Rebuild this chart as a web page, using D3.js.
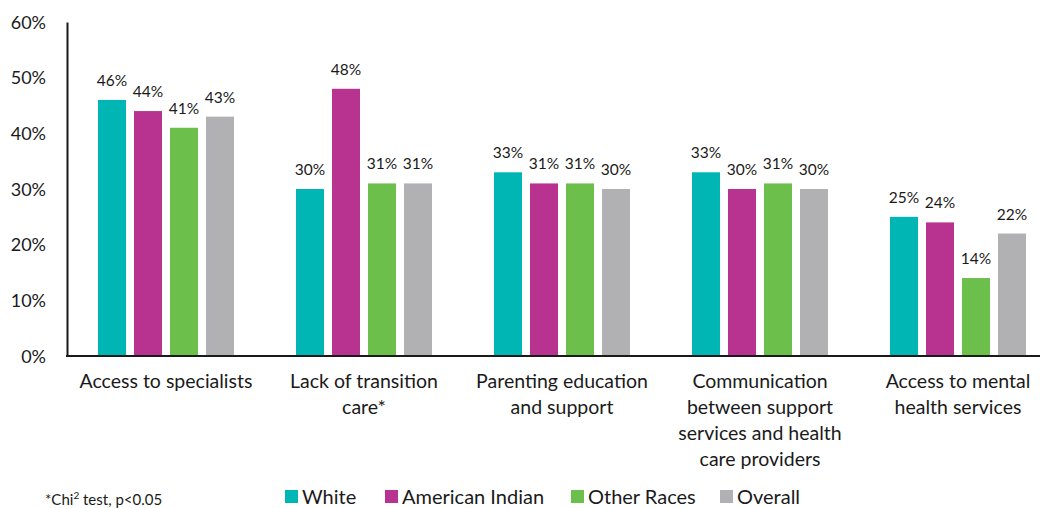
<!DOCTYPE html>
<html lang="en">
<head>
<meta charset="UTF-8">
<title>Barriers to care by race</title>
<script src="https://cdnjs.cloudflare.com/ajax/libs/d3/7.8.5/d3.min.js"></script>
<style>
    body { margin: 0; background: #fff; }
    text { font-family: Lato, 'Noto Sans', sans-serif; fill: #1a1a1a; }
</style>
</head>
<body>
<div id="chart"></div>
<script>
    // categories (each label split into its lines)
    const categories = [
        ['Access to specialists'],
        ['Lack of transition', 'care*'],
        ['Parenting education', 'and support'],
        ['Communication', 'between support', 'services and health', 'care providers'],
        ['Access to mental', 'health services']
    ];
    const seriesNames = ['White', 'American Indian', 'Other Races', 'Overall'];
    const white          = [46, 30, 33, 33, 25];
    const americanIndian = [44, 48, 31, 30, 24];
    const otherRaces     = [41, 31, 31, 31, 14];
    const overall        = [43, 31, 30, 30, 22];
    const yTicks = [0, 10, 20, 30, 40, 50, 60];

    const colours = ['#00b6b4', '#b8338f', '#6cbf4a', '#b1b1b3'];
    const seriesValues = [white, americanIndian, otherRaces, overall];

    const width = 1040, height = 508;
    const svg = d3.select('#chart').append('svg')
        .attr('width', width).attr('height', height);

    const x0 = d3.scaleBand()
        .domain(d3.range(categories.length))
        .range([67, 1057])
        .paddingInner(0).paddingOuter(0);

    // inner band: 4 bars, step 36, width 28, centred in the group
    const x1 = d3.scaleBand()
        .domain(d3.range(seriesNames.length))
        .range([31, 167])
        .paddingInner(8 / 36).paddingOuter(0);

    const y = d3.scaleLinear().domain([0, 60]).range([356, 22]);

    // y axis
    const yAxis = svg.append('g')
        .attr('transform', 'translate(67,0)')
        .call(d3.axisLeft(y).tickValues(yTicks).tickSize(0).tickPadding(20)
            .tickFormat(d => d + '%'));
    yAxis.select('.domain').attr('stroke', '#1a1a1a').attr('stroke-width', 2);
    yAxis.selectAll('text')
        .style('font-size', '18px')
        .attr('text-anchor', 'end')
        .attr('x', -21).attr('dy', '0.34em');

    // bars
    const groups = svg.append('g').selectAll('g')
        .data(categories)
        .join('g')
        .attr('transform', (d, i) => `translate(${x0(i)},0)`);

    groups.each(function(d, ci) {
        const g = d3.select(this);
        const vals = seriesValues.map((s, si) => ({ si: si, v: s[ci] }));
        g.selectAll('rect')
            .data(vals)
            .join('rect')
            .attr('x', e => x1(e.si))
            .attr('width', x1.bandwidth())
            .attr('y', e => y(e.v))
            .attr('height', e => y(0) - y(e.v))
            .attr('fill', e => colours[e.si]);
        g.selectAll('text.val')
            .data(vals)
            .join('text')
            .attr('class', 'val')
            .attr('x', e => x1(e.si) + x1.bandwidth() / 2)
            .attr('y', e => y(e.v) - 14)
            .attr('text-anchor', 'middle')
            .style('font-size', '15.5px')
            .text(e => e.v + '%');
    });

    // x axis line
    svg.append('line')
        .attr('x1', 66).attr('x2', 1040)
        .attr('y1', y(0)).attr('y2', y(0))
        .attr('stroke', '#1a1a1a').attr('stroke-width', 2);

    // category labels
    groups.each(function(lines, ci) {
        const t = d3.select(this).append('text')
            .attr('text-anchor', 'middle')
            .style('font-size', '19.5px');
        t.selectAll('tspan')
            .data(lines)
            .join('tspan')
            .attr('x', x0.bandwidth() / 2)
            .attr('y', (l, li) => 388 + li * 26)
            .text(l => l);
    });

    // legend
    const legendX = [285, 385, 571, 720];
    const legend = svg.append('g').selectAll('g')
        .data(seriesNames)
        .join('g')
        .attr('transform', (d, i) => `translate(${legendX[i]},490)`);
    legend.append('rect')
        .attr('width', 13).attr('height', 13)
        .attr('fill', (d, i) => colours[i]);
    legend.append('text')
        .attr('x', 17).attr('y', 14)
        .style('font-size', '20px')
        .text(d => d);

    // footnote
    const note = svg.append('text')
        .attr('x', 45).attr('y', 505)
        .style('font-size', '15px');
    note.append('tspan').text('*Chi');
    note.append('tspan').attr('dy', -6).style('font-size', '10px').text('2');
    note.append('tspan').attr('dy', 6).text(' test, p<0.05');
</script>
</body>
</html>
